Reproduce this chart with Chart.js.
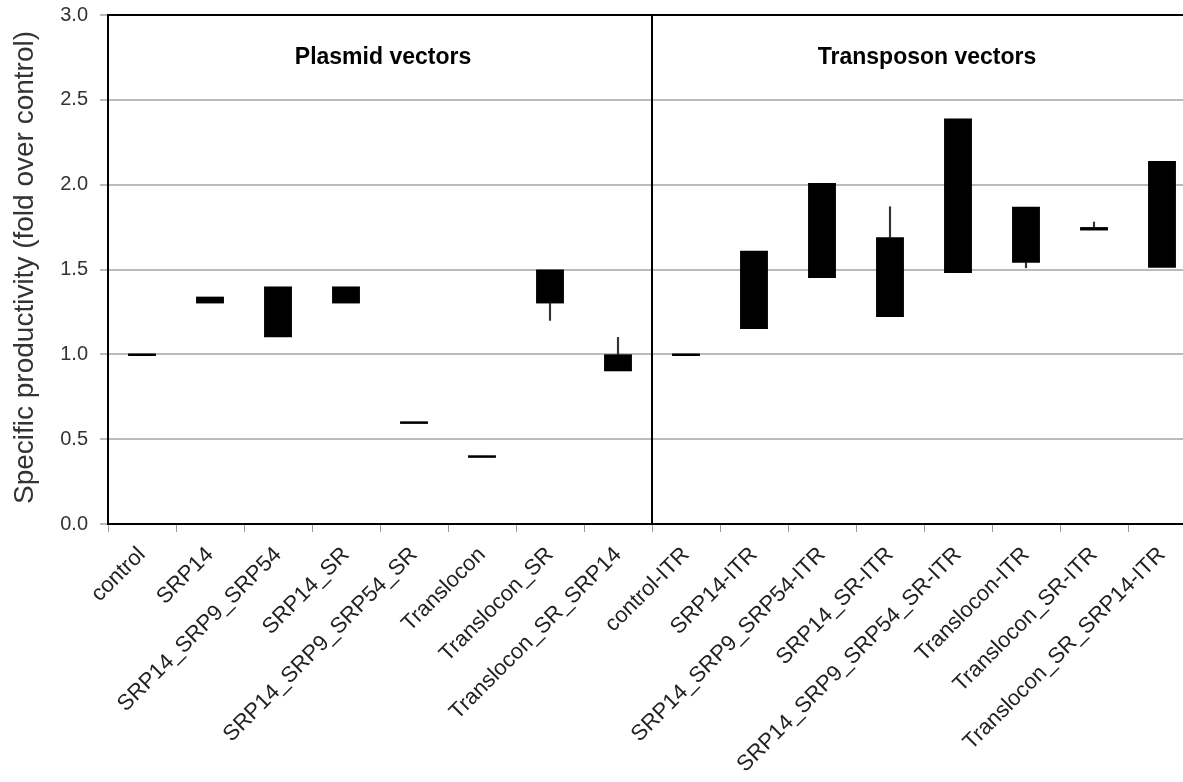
<!DOCTYPE html>
<html>
<head>
<meta charset="utf-8">
<script src="https://cdn.jsdelivr.net/npm/chart.js@4"></script>
<style>
  html, body { margin: 0; padding: 0; background: #fff; overflow: hidden; }
  #wrap { width: 1200px; height: 782px; position: relative; }
</style>
</head>
<body>
<div id="wrap"><canvas id="chart"></canvas></div>
<script>
// categories, left half plasmid vectors, right half transposon vectors
const categories = [
    'control', 'SRP14', 'SRP14_SRP9_SRP54', 'SRP14_SR', 'SRP14_SRP9_SRP54_SR',
    'Translocon', 'Translocon_SR', 'Translocon_SR_SRP14',
    'control-ITR', 'SRP14-ITR', 'SRP14_SRP9_SRP54-ITR', 'SRP14_SR-ITR',
    'SRP14_SRP9_SRP54_SR-ITR', 'Translocon-ITR', 'Translocon_SR-ITR', 'Translocon_SR_SRP14-ITR'
];
const boxLow  = [0.99, 1.30, 1.10, 1.30, 0.59, 0.39, 1.30, 0.90, 0.99, 1.15, 1.45, 1.22, 1.48, 1.54, 1.73, 1.51];
const boxHigh = [1.005, 1.34, 1.40, 1.40, 0.605, 0.405, 1.50, 1.00, 1.005, 1.61, 2.01, 1.69, 2.39, 1.87, 1.75, 2.14];
const whiskerEnd = [null, null, null, null, null, null, 1.20, 1.10, null, null, null, 1.87, null, 1.51, 1.78, null];
const groupLabels = ['Plasmid vectors', 'Transposon vectors'];
const groupSize = 8;
const yTicks = [0, 0.5, 1.0, 1.5, 2.0, 2.5, 3.0];
const yTitle = 'Specific productivity (fold over control)';

const boxData = categories.map((_, i) => [boxLow[i], boxHigh[i]]);
const whiskerData = categories.map((_, i) => {
    const w = whiskerEnd[i];
    if (w === null) return null;
    return w < boxLow[i] ? [w, boxLow[i]] : [boxHigh[i], w];
});

const FONT = '"Liberation Sans", Arial, sans-serif';

// frame, divider, group titles and the y axis title
const framePlugin = {
    id: 'frame',
    afterDatasetsDraw(chart) {
        const { ctx, chartArea: a, scales: { x, y } } = chart;
        ctx.save();
        ctx.strokeStyle = '#000';
        ctx.lineWidth = 2;
        ctx.strokeRect(a.left, a.top, a.right - a.left, a.bottom - a.top);
        const divX = (x.getPixelForValue(groupSize - 1) + x.getPixelForValue(groupSize)) / 2;
        ctx.beginPath();
        ctx.moveTo(divX, a.top);
        ctx.lineTo(divX, a.bottom);
        ctx.stroke();

        ctx.fillStyle = '#000';
        ctx.font = 'bold 23px ' + FONT;
        ctx.textAlign = 'center';
        ctx.textBaseline = 'middle';
        groupLabels.forEach((label, g) => {
            const cx = (x.getPixelForValue(g * groupSize) + x.getPixelForValue(g * groupSize + groupSize - 1)) / 2;
            ctx.fillText(label, cx + 3, y.getPixelForValue(2.75));
        });

        // axis title
        ctx.translate(25, (a.top + a.bottom) / 2 - 2);
        ctx.rotate(-Math.PI / 2);
        ctx.fillStyle = '#333';
        ctx.font = '28px ' + FONT;
        ctx.fillText(yTitle, 0, 0);
        ctx.restore();
    }
};

new Chart(document.getElementById('chart').getContext('2d'), {
    type: 'bar',
    data: {
        labels: categories,
        datasets: [
            {
                label: 'range',
                data: boxData,
                backgroundColor: '#000',
                borderColor: '#000',
                borderWidth: 0,
                grouped: false,
                barPercentage: 0.41,
                categoryPercentage: 1.0,
                order: 1
            },
            {
                label: 'whisker',
                data: whiskerData,
                backgroundColor: '#333',
                borderWidth: 0,
                grouped: false,
                barThickness: 1.5,
                order: 2
            }
        ]
    },
    options: {
        responsive: true,
        maintainAspectRatio: false,
        animation: false,
        layout: { padding: { top: 15, right: 4, left: 0, bottom: 0 } },
        plugins: {
            legend: { display: false },
            tooltip: { enabled: false }
        },
        scales: {
            x: {
                offset: true,
                grid: {
                    offset: true,
                    drawOnChartArea: false,
                    color: '#999',
                    lineWidth: 1,
                    tickLength: 8
                },
                border: { color: '#000', width: 2 },
                ticks: {
                    autoSkip: false,
                    maxRotation: 45,
                    minRotation: 45,
                    padding: 10,
                    color: '#222',
                    font: { family: FONT, size: 22 }
                },
                afterFit(scale) { scale.height = 258; }
            },
            y: {
                min: 0,
                max: 3,
                afterBuildTicks(scale) { scale.ticks = yTicks.map(v => ({ value: v })); },
                grid: {
                    color: '#bbb',
                    lineWidth: 2,
                    tickLength: 8
                },
                border: { color: '#000', width: 2 },
                ticks: {
                    padding: 12,
                    color: '#333',
                    font: { family: FONT, size: 20, lineHeight: 0.2 },
                    callback: v => Number(v).toFixed(1)
                },
                afterFit(scale) { scale.width = 108; }
            }
        }
    },
    plugins: [framePlugin]
});
</script>
</body>
</html>
